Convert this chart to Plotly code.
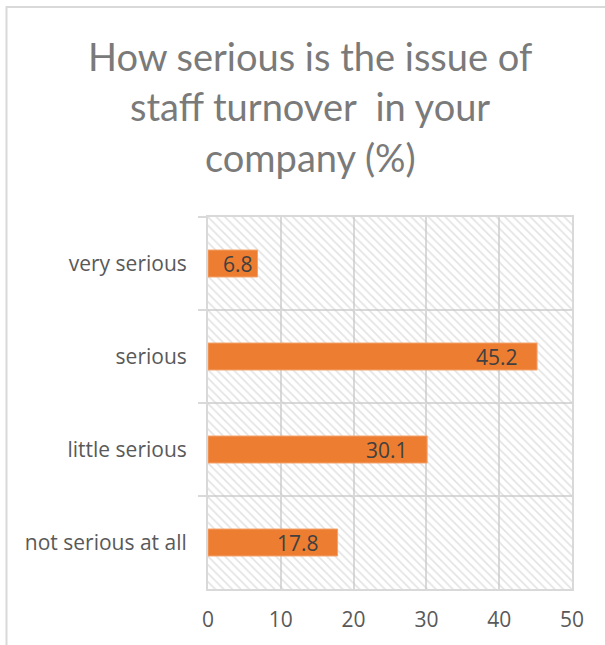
import plotly.graph_objects as go

# Survey answers, listed top to bottom as shown on the chart
categories = ["very serious", "serious", "little serious", "not serious at all"]
shares = [6.8, 45.2, 30.1, 17.8]
x_ticks = [0, 10, 20, 30, 40, 50]

title_lines = ["How serious is the issue of", "staff turnover  in your", "company (%)"]

W, H = 605, 645
L, R, T, B = 208, 33, 217, 56
plot_w = W - L - R
plot_h = H - T - B
x_max = x_ticks[-1]

grid = "#d9d9d9"
label_font = dict(family="Open Sans", size=21, color="#595959")

fig = go.Figure()

# hatched plot-area fill, one full-height band per category
fig.add_trace(go.Bar(
    y=categories, x=[x_max] * len(categories), orientation="h", width=1,
    marker=dict(color="rgba(0,0,0,0)", line=dict(width=0),
                pattern=dict(shape="\\", fgcolor="#c8c8c8", bgcolor="rgba(0,0,0,0)",
                             size=6, solidity=0.28)),
    hoverinfo="skip", showlegend=False,
))

fig.add_trace(go.Bar(
    y=categories, x=shares, orientation="h", width=0.29,
    marker=dict(color="#ED7D31", line=dict(color="#F4A26C", width=1)),
    showlegend=False,
))

# value labels inside the bar ends
for cat, v in zip(categories, shares):
    fig.add_annotation(
        x=v, y=cat, text=f"{v:.1f}", showarrow=False, xanchor="right",
        xshift=-17 if v > 10 else -3,
        font=dict(family="Open Sans", size=21, color="#404040"),
    )

# chart frame and title, placed in page pixels
def px_x(p):
    return (p - L) / plot_w

def px_y(p):
    return (H - B - p) / plot_h

fig.add_shape(type="rect", xref="paper", yref="paper",
              x0=px_x(6.5), x1=px_x(W + 10), y0=px_y(H + 10), y1=px_y(7),
              line=dict(color=grid, width=2), fillcolor="rgba(0,0,0,0)", layer="below")

for i, line in enumerate(title_lines):
    fig.add_annotation(
        xref="paper", yref="paper", x=px_x(310), y=px_y(56 + 50.5 * i),
        xanchor="center", yanchor="middle", showarrow=False, text=line,
        font=dict(family="Lato", size=38, color="#7a7a7a"),
    )

fig.update_layout(
    width=W, height=H,
    margin=dict(l=L, r=R, t=T, b=B),
    paper_bgcolor="white", plot_bgcolor="white",
    barmode="overlay",
    xaxis=dict(
        range=[0, x_max], tickvals=x_ticks, ticks="",
        showgrid=True, gridcolor=grid, gridwidth=2,
        showline=True, linecolor=grid, linewidth=2, mirror=True,
        zeroline=False, tickfont=label_font, ticklabelstandoff=11,
        fixedrange=True,
    ),
    yaxis=dict(
        type="category", autorange="reversed", tickson="boundaries",
        ticks="outside", ticklen=8, tickcolor=grid, tickwidth=2,
        showgrid=True, gridcolor=grid, gridwidth=2,
        showline=True, linecolor=grid, linewidth=2, mirror=True,
        tickfont=label_font, ticklabelstandoff=15,
        fixedrange=True,
    ),
)

fig.write_html("out.html")
